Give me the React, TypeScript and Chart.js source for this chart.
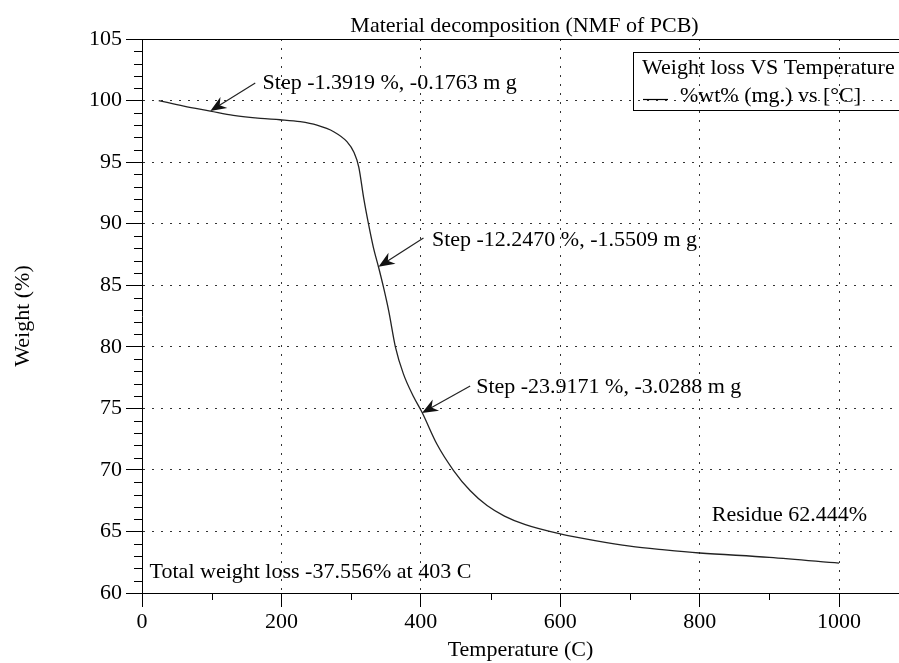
import React, { useEffect, useRef } from 'react';
import { Chart, registerables } from 'chart.js';

Chart.register(...registerables);

// ---- data ----
const temperatures = [24, 60, 98, 131, 170, 198, 227, 251, 275, 294, 304, 311, 318, 325, 332, 339.5, 346.6, 354, 363.5, 375, 390, 401.7, 423, 447, 471, 495, 520, 550, 600, 650, 700, 750, 800, 900, 1000];
const weights = [100.0, 99.55, 99.15, 98.8, 98.55, 98.44, 98.28, 98.0, 97.47, 96.66, 95.8, 94.6, 92.1, 89.96, 88.06, 86.44, 84.8, 82.9, 80.0, 77.8, 75.9, 74.68, 72.1, 69.95, 68.3, 67.1, 66.25, 65.55, 64.8, 64.25, 63.8, 63.5, 63.25, 62.9, 62.43];

const chartTitle = 'Material decomposition (NMF of PCB)';
const xTitle = 'Temperature (C)';
const yTitle = 'Weight (%)';
const legendTitle = 'Weight loss VS Temperature';
const seriesLabel = '%wt% (mg.) vs [°C]';

// annotation texts with anchor (data coords) and optional arrow (tail -> tip, data coords)
const noteTexts = [
  'Step -1.3919 %, -0.1763 m g',
  'Step -12.2470 %, -1.5509 m g',
  'Step -23.9171 %, -3.0288 m g',
  'Residue 62.444%',
  'Total weight loss -37.556% at 403 C',
];
const noteX = [173, 415.9, 479.4, 817.4, 10.9];
const noteY = [101.42, 88.67, 76.74, 66.31, 61.68];
const arrowTailX = [162.5, 403.8, 470.8, null, null];
const arrowTailY = [101.42, 88.83, 76.82, null, null];
const arrowTipX = [98, 339.3, 401.6, null, null];
const arrowTipY = [99.15, 86.5, 74.63, null, null];

const xMin = 0;
const xMax = 1086;
const xStep = 200;
const xMinorStep = 100;
const yMin = 60;
const yMax = 105;
const yStep = 5;
const yMinorStep = 1;

const FAMILY = "'Liberation Serif', 'Times New Roman', serif";
const FONT_SIZE = 22;
const FONT = `${FONT_SIZE}px ${FAMILY}`;

const overlayPlugin = {
  id: 'overlay',
  afterDraw(chart: any) {
    const { ctx, chartArea, scales } = chart;
    const x = scales.x;
    const y = scales.y;
    const { left, right, top, bottom } = chartArea;
    ctx.save();
    ctx.strokeStyle = '#000';
    ctx.fillStyle = '#000';
    ctx.lineWidth = 1;

    // top frame line
    const ty = Math.round(top) + 0.5;
    ctx.beginPath();
    ctx.moveTo(left, ty);
    ctx.lineTo(right, ty);
    ctx.stroke();

    // minor ticks x
    for (let v = xMin + xMinorStep; v <= xMax; v += xMinorStep) {
      if (v % xStep === 0) continue;
      const px = Math.round(x.getPixelForValue(v)) + 0.5;
      ctx.beginPath();
      ctx.moveTo(px, bottom);
      ctx.lineTo(px, bottom + 7);
      ctx.stroke();
    }
    // minor ticks y
    for (let v = yMin + yMinorStep; v < yMax; v += yMinorStep) {
      if (v % yStep === 0) continue;
      const py = Math.round(y.getPixelForValue(v)) + 0.5;
      ctx.beginPath();
      ctx.moveTo(left - 8, py);
      ctx.lineTo(left, py);
      ctx.stroke();
    }

    // title
    ctx.font = FONT;
    ctx.textAlign = 'center';
    ctx.textBaseline = 'middle';
    ctx.fillText(chartTitle, (left + right) / 2 + 4, top - 13);

    // annotations
    ctx.textAlign = 'left';
    noteTexts.forEach((t, i) => {
      const px = x.getPixelForValue(noteX[i]);
      const py = y.getPixelForValue(noteY[i]);
      ctx.fillStyle = '#000';
      ctx.fillText(t, px, py);
      if (arrowTipX[i] !== null) {
        const x0 = x.getPixelForValue(arrowTailX[i] as number);
        const y0 = y.getPixelForValue(arrowTailY[i] as number);
        const x1 = x.getPixelForValue(arrowTipX[i] as number);
        const y1 = y.getPixelForValue(arrowTipY[i] as number);
        const ang = Math.atan2(y1 - y0, x1 - x0);
        const hl = 16;
        const hw = 6.5;
        ctx.strokeStyle = '#222';
        ctx.lineWidth = 1.2;
        ctx.beginPath();
        ctx.moveTo(x0, y0);
        ctx.lineTo(x1 - Math.cos(ang) * 8, y1 - Math.sin(ang) * 8);
        ctx.stroke();
        const bx = x1 - Math.cos(ang) * hl;
        const by = y1 - Math.sin(ang) * hl;
        const nx = x1 - Math.cos(ang) * (hl - 5);
        const ny = y1 - Math.sin(ang) * (hl - 5);
        ctx.beginPath();
        ctx.moveTo(x1, y1);
        ctx.lineTo(bx - Math.sin(ang) * hw, by + Math.cos(ang) * hw);
        ctx.lineTo(nx, ny);
        ctx.lineTo(bx + Math.sin(ang) * hw, by - Math.cos(ang) * hw);
        ctx.closePath();
        ctx.fillStyle = '#111';
        ctx.fill();
      }
    });

    // legend box
    const lx = right - 266;
    const ly = top + 13;
    ctx.strokeStyle = '#000';
    ctx.lineWidth = 1;
    ctx.strokeRect(Math.round(lx) + 0.5, Math.round(ly) + 0.5, 300, 58);
    ctx.fillStyle = '#000';
    ctx.textAlign = 'left';
    ctx.textBaseline = 'middle';
    ctx.fillText(legendTitle, lx + 9, ly + 16.5);
    ctx.beginPath();
    ctx.lineWidth = 1.2;
    ctx.moveTo(lx + 10, ly + 47.5);
    ctx.lineTo(lx + 35, ly + 47.5);
    ctx.stroke();
    ctx.fillText(chart.data.datasets[0].label, lx + 47, ly + 44.5);

    ctx.restore();
  },
};

export default function App() {
  const ref = useRef<HTMLCanvasElement | null>(null);

  useEffect(() => {
    if (!ref.current) return;
    const points = temperatures.map((t, i) => ({ x: t, y: weights[i] }));
    const chart = new Chart(ref.current, {
      type: 'line',
      data: {
        datasets: [
          {
            label: seriesLabel,
            data: points,
            borderColor: '#222',
            borderWidth: 1.3,
            pointRadius: 0,
            cubicInterpolationMode: 'monotone',
            fill: false,
          },
        ],
      },
      options: {
        responsive: false,
        animation: false,
        devicePixelRatio: 1,
        layout: { padding: { top: 39, left: 0, right: 0, bottom: 0 } },
        plugins: {
          legend: { display: false },
          tooltip: { enabled: false },
          title: { display: false },
        },
        scales: {
          x: {
            type: 'linear',
            min: xMin,
            max: xMax,
            ticks: {
              stepSize: xStep,
              includeBounds: false,
              autoSkip: false,
              maxRotation: 0,
              color: '#000',
              padding: 2,
              font: { family: FAMILY, size: FONT_SIZE },
              callback: (v: any) => String(v),
            },
            grid: {
              color: '#333',
              lineWidth: 1,
              tickLength: 14,
              tickColor: '#000',
              tickWidth: 1,
            },
            border: { display: true, color: '#000', width: 1, dash: [2, 7] },
            title: {
              display: true,
              text: xTitle,
              color: '#000',
              font: { family: FAMILY, size: FONT_SIZE },
              padding: { top: 0, bottom: 0 },
            },
            afterFit: (s: any) => {
              s.height = 70;
            },
          },
          y: {
            type: 'linear',
            min: yMin,
            max: yMax,
            ticks: {
              stepSize: yStep,
              autoSkip: false,
              color: '#000',
              padding: 4,
              font: { family: FAMILY, size: FONT_SIZE },
              callback: (v: any) => String(v),
            },
            grid: {
              color: '#333',
              lineWidth: 1,
              tickLength: 16,
              tickColor: '#000',
              tickWidth: 1,
            },
            border: { display: true, color: '#000', width: 1, dash: [2, 7] },
            title: {
              display: true,
              text: yTitle,
              color: '#000',
              font: { family: FAMILY, size: FONT_SIZE },
              padding: { top: 10, bottom: 0 },
            },
            afterFit: (s: any) => {
              s.width = 142;
            },
          },
        },
      },
      plugins: [overlayPlugin],
    } as any);
    return () => chart.destroy();
  }, []);

  return (
    <div style={{ position: 'fixed', left: 0, top: 0, width: 899, height: 663, background: '#fff' }}>
      <canvas ref={ref} width={899} height={663} />
    </div>
  );
}
